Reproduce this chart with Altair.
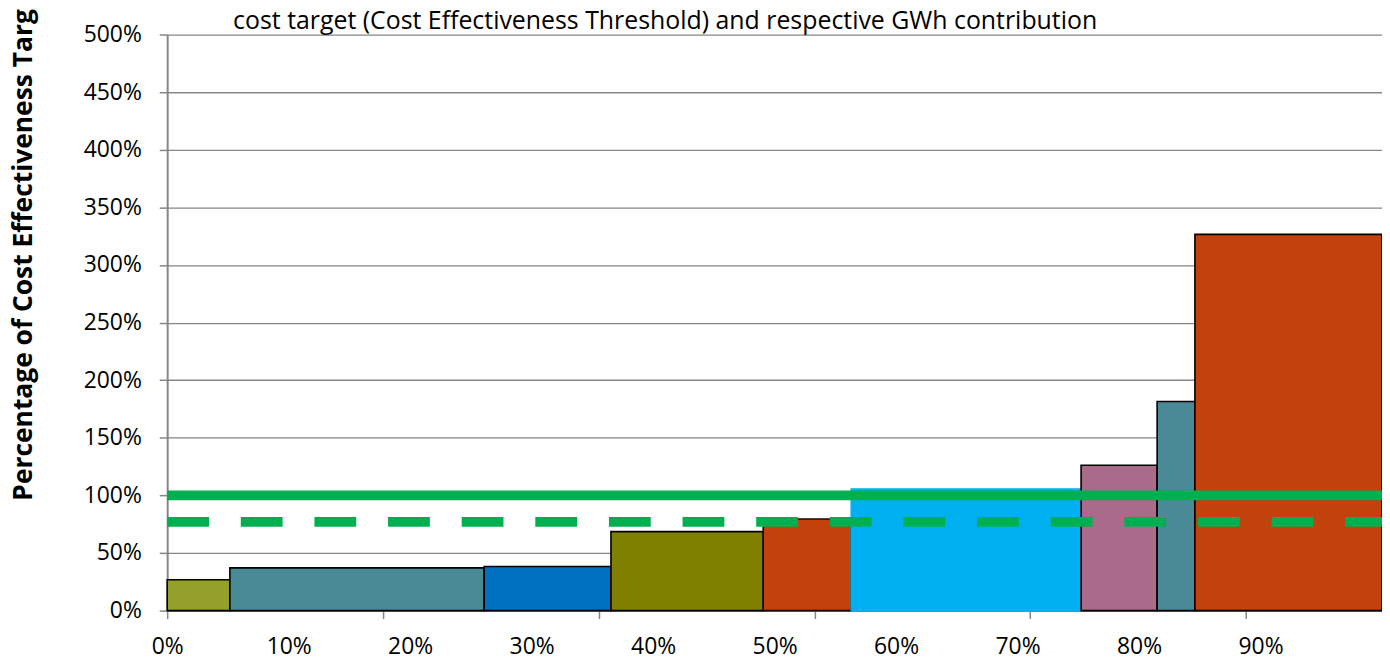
import altair as alt
import pandas as pd

# ---- data ----
x_start = [0.0, 0.0516, 0.2609, 0.3653, 0.4906, 0.5631, 0.7523, 0.8149, 0.8460]
x_end = [0.0516, 0.2609, 0.3653, 0.4906, 0.5631, 0.7523, 0.8149, 0.8460, 1.0]
pct_of_target = [0.268, 0.371, 0.383, 0.685, 0.795, 1.054, 1.262, 1.815, 3.265]
fill_colors = ["#94A02A", "#4A8A96", "#0070C0", "#808000", "#C2410C",
               "#00B0F0", "#A96B89", "#4A8A96", "#C2410C"]
outline_colors = ["#000000", "#000000", "#000000", "#000000", "#1a0a00",
                  "#00B0F0", "#000000", "#000000", "#000000"]

threshold_full = [1.0]
threshold_dashed = [0.77]

x_label_values = [0.0, 0.1, 0.2, 0.3, 0.4, 0.5, 0.6, 0.7, 0.8, 0.9]
x_tick_values = [0.0, 0.1776, 0.3552, 0.5328, 0.7104, 0.888]
y_tick_values = [0.0, 0.5, 1.0, 1.5, 2.0, 2.5, 3.0, 3.5, 4.0, 4.5, 5.0]

Y_TITLE = "Percentage of Cost Effectiveness Target"
TITLE = "cost target (Cost Effectiveness Threshold) and respective GWh contribution"
FONT = "Open Sans"
GRAY = "#868686"

bar_df = pd.DataFrame({
    "x0": x_start, "x1": x_end, "v": pct_of_target,
    "fill": fill_colors, "stroke": outline_colors,
})
full_df = pd.DataFrame({"x0": [0.0], "x1": [1.0], "v": threshold_full})
dash_df = pd.DataFrame({"x0": [0.0], "x1": [1.0], "v": threshold_dashed})

xscale = alt.Scale(domain=[0, 1], nice=False, zero=False)
yscale = alt.Scale(domain=[0, 5], nice=False)

y_axis = alt.Axis(
    values=y_tick_values, format=".0%", grid=True, gridColor=GRAY, gridWidth=1.3,
    tickSize=8, tickColor=GRAY, tickWidth=1.5, domainColor=GRAY, domainWidth=2,
    labelPadding=18, labelFont=FONT, labelFontSize=23, labelColor="black",
    titleX=-136, titleY=468, titleAngle=270, titleAlign="left",
    titleBaseline="alphabetic", titleFont=FONT, titleFontSize=26.5,
    titleFontWeight="bold", titleColor="black",
)

bars = alt.Chart(bar_df).mark_rect(strokeWidth=1.6).encode(
    x=alt.X("x0:Q", scale=xscale, title="",
            axis=alt.Axis(values=x_label_values, format=".0%", ticks=False, tickSize=0,
                          labelPadding=25, labelFont=FONT, labelFontSize=23,
                          labelColor="black", domainColor=GRAY, domainWidth=2,
                          grid=False, labelFlush=False)),
    x2="x1",
    y=alt.Y("v:Q", scale=yscale, title=Y_TITLE, axis=y_axis),
    y2=alt.datum(0),
    fill=alt.Fill("fill:N", scale=None),
    stroke=alt.Stroke("stroke:N", scale=None),
)

full_line = alt.Chart(full_df).mark_rule(strokeWidth=10, color="#00B050").encode(
    x=alt.X("x0:Q", scale=xscale, title="",
            axis=alt.Axis(orient="bottom", values=x_tick_values, labels=False,
                          ticks=True, tickSize=8, tickColor=GRAY, tickWidth=1.5,
                          domain=False, grid=False)),
    x2="x1",
    y=alt.Y("v:Q", scale=yscale, title=Y_TITLE),
)

dash_line = alt.Chart(dash_df).mark_rule(
    strokeWidth=10, color="#00B050", strokeDash=[42, 32]
).encode(
    x=alt.X("x0:Q", scale=xscale, axis=None),
    x2="x1",
    y=alt.Y("v:Q", scale=yscale, title=Y_TITLE),
)

# the chart title is placed above the view bounds, which include the long
# y-axis title running past the top; the negative offset brings it back down
chart = alt.layer(bars, full_line, dash_line).resolve_axis(x="independent").properties(
    width=1221,
    height=579,
    padding={"left": 160, "top": 25, "right": 0, "bottom": 48},
    autosize=alt.AutoSizeParams(type="none"),
    title=alt.TitleParams(TITLE, font=FONT, fontSize=25, fontWeight="normal",
                          color="black", anchor="middle", frame="group",
                          dx=-110, offset=-53),
).configure_view(strokeWidth=0)

chart.save("out.html", embed_options={"renderer": "svg", "actions": False})
